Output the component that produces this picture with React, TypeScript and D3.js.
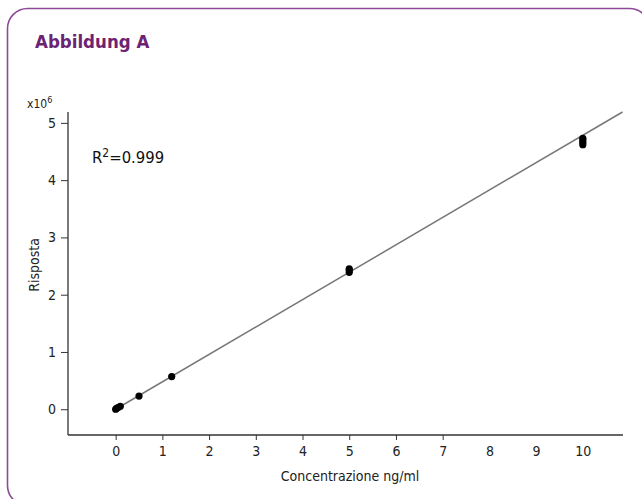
import { useEffect, useRef } from "react"
import * as d3 from "d3"

// calibration points (concentration ng/ml, response x10^6)
const concentrations = [0, 0.02, 0.05, 0.1, 0.5, 1.2, 5, 5, 5, 10, 10, 10, 10]
const responses = [0.0, 0.015, 0.03, 0.05, 0.23, 0.57, 2.39, 2.43, 2.45, 4.62, 4.66, 4.7, 4.73]
const fitLine = [
  { x: 0, y: 0 },
  { x: 10.85, y: 5.19 },
]
const xTicks = [0, 1, 2, 3, 4, 5, 6, 7, 8, 9, 10]
const yTicks = [0, 1, 2, 3, 4, 5]

const W = 642
const H = 499
const FONT = "'Liberation Sans Narrow', 'DejaVu Sans Condensed', 'Roboto', sans-serif"

const App = () => {
  const svgRef = useRef<SVGSVGElement>(null)

  useEffect(() => {
    const svg = d3.select(svgRef.current)
    svg.selectAll("*").remove()
    svg.attr("font-family", FONT)

    // frame
    svg.append("rect")
      .attr("x", 7.5).attr("y", 8.5)
      .attr("width", 642).attr("height", 497)
      .attr("rx", 20)
      .attr("fill", "#fff")
      .attr("stroke", "#8e4a98")
      .attr("stroke-width", 1.6)

    // title
    svg.append("text")
      .attr("x", 35).attr("y", 48)
      .attr("font-size", 18.5)
      .attr("font-weight", "bold")
      .attr("fill", "#6c2373")
      .text("Abbildung A")

    const x = d3.scaleLinear().domain([-1.02, 10.86]).range([68, 623])
    const y = d3.scaleLinear().domain([-0.45, 5.19]).range([435, 112])

    // x axis
    const gx = svg.append("g")
      .attr("transform", `translate(0,435)`)
      .call(d3.axisBottom(x).tickValues(xTicks).tickSize(5).tickPadding(6).tickFormat(d3.format("d")))
    gx.select(".domain").attr("d", `M${x.range()[0]},0H${x.range()[1]}`).attr("stroke", "#333").attr("stroke-width", 1.3)
    gx.selectAll(".tick line").attr("stroke", "#333")
      .filter((d: any) => d > 7).remove()
    gx.selectAll(".tick text").attr("font-size", 14).attr("font-family", FONT).attr("fill", "#222")

    // y axis
    const gy = svg.append("g")
      .attr("transform", `translate(68,0)`)
      .call(d3.axisLeft(y).tickValues(yTicks).tickSize(7).tickPadding(5).tickFormat(d3.format("d")))
    gy.select(".domain").attr("d", `M0,${y.range()[0]}V${y.range()[1]}`).attr("stroke", "#333").attr("stroke-width", 1.3)
    gy.selectAll(".tick line").attr("stroke", "#333")
    gy.selectAll(".tick text").attr("font-size", 14).attr("font-family", FONT).attr("fill", "#222")

    // exponent
    const exp = svg.append("text")
      .attr("x", 27).attr("y", 108)
      .attr("font-size", 12).attr("fill", "#222")
    exp.append("tspan").text("x10")
    exp.append("tspan").attr("dy", -5).attr("font-size", 9).text("6")

    // axis titles
    svg.append("text")
      .attr("x", 350).attr("y", 481)
      .attr("text-anchor", "middle")
      .attr("font-size", 14).attr("fill", "#222")
      .text("Concentrazione ng/ml")

    svg.append("text")
      .attr("transform", `translate(39,265) rotate(-90)`)
      .attr("text-anchor", "middle")
      .attr("font-size", 14).attr("fill", "#222")
      .text("Risposta")

    // R squared
    const r2 = svg.append("text")
      .attr("x", 92).attr("y", 163)
      .attr("font-size", 16.5).attr("fill", "#111")
    r2.append("tspan").text("R")
    r2.append("tspan").attr("dy", -6).attr("font-size", 12).text("2")
    r2.append("tspan").attr("dy", 6).text("=0.999")

    // regression line
    const line = d3.line<{ x: number; y: number }>()
      .x(d => x(d.x))
      .y(d => y(d.y))
    svg.append("path")
      .datum(fitLine)
      .attr("d", line)
      .attr("fill", "none")
      .attr("stroke", "#777")
      .attr("stroke-width", 1.5)

    // points
    svg.append("g")
      .selectAll("circle")
      .data(concentrations.map((c, i) => ({ x: c, y: responses[i] })))
      .join("circle")
      .attr("cx", d => x(d.x))
      .attr("cy", d => y(d.y))
      .attr("r", 3.6)
      .attr("fill", "#000")
  }, [])

  return (
    <svg ref={svgRef} width={W} height={H} style={{ position: "absolute", left: 0, top: 0 }} />
  )
}

export default App
